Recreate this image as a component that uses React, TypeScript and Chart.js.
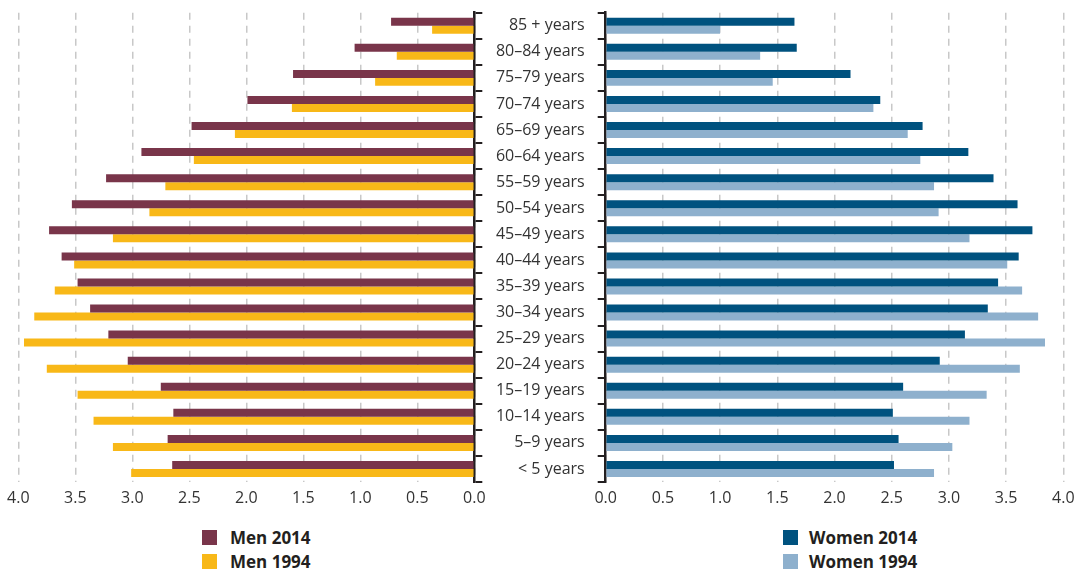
import React, { useEffect, useRef } from "react";
import { Chart, registerables } from "chart.js";

Chart.register(...registerables);

const categories = [
  "85 + years", "80–84 years", "75–79 years", "70–74 years", "65–69 years",
  "60–64 years", "55–59 years", "50–54 years", "45–49 years", "40–44 years",
  "35–39 years", "30–34 years", "25–29 years", "20–24 years", "15–19 years",
  "10–14 years", "5–9 years", "< 5 years",
];
const men2014 = [0.73, 1.05, 1.59, 1.99, 2.48, 2.92, 3.23, 3.53, 3.73, 3.62, 3.48, 3.37, 3.21, 3.04, 2.75, 2.64, 2.69, 2.65];
const men1994 = [0.37, 0.68, 0.87, 1.60, 2.10, 2.46, 2.71, 2.85, 3.17, 3.51, 3.68, 3.86, 3.95, 3.75, 3.48, 3.34, 3.17, 3.01];
const women2014 = [1.65, 1.67, 2.14, 2.40, 2.77, 3.17, 3.39, 3.60, 3.73, 3.61, 3.43, 3.34, 3.14, 2.92, 2.60, 2.51, 2.56, 2.52];
const women1994 = [1.00, 1.35, 1.46, 2.34, 2.64, 2.75, 2.87, 2.91, 3.18, 3.51, 3.64, 3.78, 3.84, 3.62, 3.33, 3.18, 3.03, 2.87];
const axisMin = 0;
const axisMax = 4;
const axisStep = 0.5;

const COLORS = {
  men2014: "#79354a",
  men1994: "#f8b818",
  women2014: "#00527f",
  women1994: "#8eb0cd",
};

const FONT = "'Open Sans', 'Noto Sans', sans-serif";
const W = 1083;
const H = 520;
const TOP = 12.7;
const X_AXIS_H = 38;
const DARK = "#231f20";

function xScale(reverse: boolean) {
  return {
    type: "linear" as const,
    min: axisMin,
    max: axisMax,
    reverse,
    position: "bottom" as const,
    afterFit: (s: any) => { s.height = X_AXIS_H; },
    grid: { color: "#c8c8c8", lineWidth: 1.5, drawTicks: false },
    border: { display: false, dash: [7, 6] },
    ticks: {
      stepSize: axisStep,
      padding: 7,
      color: "#333",
      font: { family: FONT, size: 16 },
      callback: (v: any) => Number(v).toFixed(1),
    },
  };
}

function fixY(width: number) {
  return (s: any) => {
    s.width = width;
    s.paddingTop = 0;
    s.paddingBottom = 0;
  };
}

export default function App() {
  const leftRef = useRef<HTMLCanvasElement>(null);
  const rightRef = useRef<HTMLCanvasElement>(null);

  useEffect(() => {
    const barCommon = { categoryPercentage: 0.613, barPercentage: 1.0, borderWidth: 0 };
    const left = new Chart(leftRef.current!, {
      type: "bar",
      data: {
        labels: categories,
        datasets: [
          { label: "Men 2014", data: men2014, backgroundColor: COLORS.men2014, ...barCommon },
          { label: "Men 1994", data: men1994, backgroundColor: COLORS.men1994, ...barCommon },
        ],
      },
      options: {
        indexAxis: "y",
        animation: false,
        responsive: false,
        devicePixelRatio: 1,
        layout: { padding: { left: 18.3, right: W - 474.3 - 10, top: TOP, bottom: 0 } },
        plugins: { legend: { display: false }, tooltip: { enabled: false } },
        scales: {
          x: xScale(true),
          y: {
            type: "category",
            position: "right",
            afterFit: fixY(10),
            grid: { drawOnChartArea: false, drawTicks: true, tickLength: 8, color: DARK, lineWidth: 2 },
            border: { display: true, color: DARK, width: 2.5 },
            ticks: { display: false },
          },
        },
      } as any,
    });

    const right = new Chart(rightRef.current!, {
      type: "bar",
      data: {
        labels: categories,
        datasets: [
          { label: "Women 2014", data: women2014, backgroundColor: COLORS.women2014, ...barCommon },
          { label: "Women 1994", data: women1994, backgroundColor: COLORS.women1994, ...barCommon },
        ],
      },
      options: {
        indexAxis: "y",
        animation: false,
        responsive: false,
        devicePixelRatio: 1,
        layout: { padding: { left: 480, right: W - 1063.3, top: TOP, bottom: 0 } },
        plugins: { legend: { display: false }, tooltip: { enabled: false } },
        scales: {
          x: xScale(false),
          y: {
            type: "category",
            position: "left",
            afterFit: fixY(125.7),
            grid: { drawOnChartArea: false, drawTicks: true, tickLength: 8, color: DARK, lineWidth: 2 },
            border: { display: true, color: DARK, width: 2.5 },
            ticks: { padding: 13, color: "#333", font: { family: FONT, size: 16 } },
          },
        },
      } as any,
    });

    return () => {
      left.destroy();
      right.destroy();
    };
  }, []);

  const legendItem = (x: number, y: number, color: string, text: string) => (
    <div
      key={text}
      style={{ position: "absolute", left: x, top: y, height: 15, display: "flex", alignItems: "center" }}
    >
      <div style={{ width: 15, height: 15, background: color }} />
      <span
        style={{
          marginLeft: x < 500 ? 13 : 11,
          fontFamily: FONT,
          fontWeight: 700,
          fontSize: 17,
          color: "#231f20",
          whiteSpace: "nowrap",
          lineHeight: "15px",
        }}
      >
        {text}
      </span>
    </div>
  );

  return (
    <div style={{ position: "absolute", left: 0, top: 0, width: W, height: 569, background: "#fff" }}>
      <canvas ref={leftRef} width={W} height={H} style={{ position: "absolute", left: 0, top: 0 }} />
      <canvas ref={rightRef} width={W} height={H} style={{ position: "absolute", left: 0, top: 0 }} />
      {legendItem(202, 530, COLORS.men2014, "Men 2014")}
      {legendItem(202, 554, COLORS.men1994, "Men 1994")}
      {legendItem(783, 530, COLORS.women2014, "Women 2014")}
      {legendItem(783, 554, COLORS.women1994, "Women 1994")}
    </div>
  );
}
